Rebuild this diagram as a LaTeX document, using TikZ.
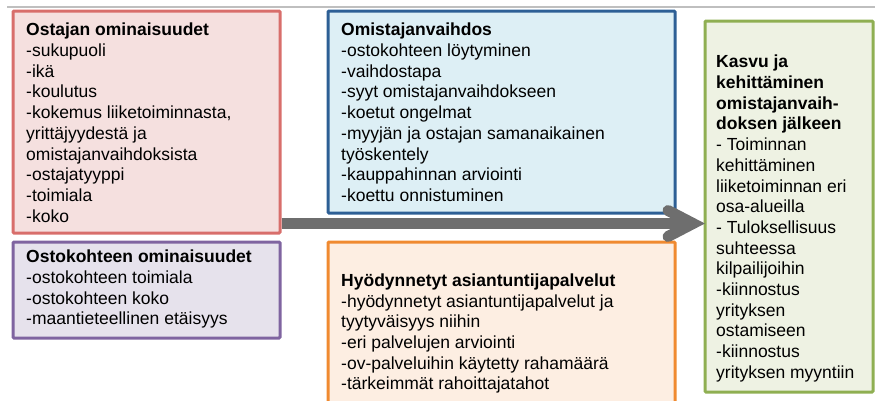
\documentclass[tikz,border=0pt]{standalone}
\usepackage{fontspec}
\setmainfont{Liberation Sans}
\definecolor{redB}{HTML}{D86E6B}
\definecolor{redF}{HTML}{F5E0DF}
\definecolor{purB}{HTML}{7F64A0}
\definecolor{purF}{HTML}{E6E2EC}
\definecolor{bluB}{HTML}{2D5F95}
\definecolor{bluF}{HTML}{DDEFF5}
\definecolor{oraB}{HTML}{F08A30}
\definecolor{oraF}{HTML}{FDEEE2}
\definecolor{grnB}{HTML}{8FAF52}
\definecolor{grnF}{HTML}{EEF2E3}
\definecolor{arrC}{HTML}{6E6E6E}
\definecolor{topL}{HTML}{BFBFBF}
\tikzset{
  box/.style={line width=3pt, rounded corners=1pt},
  txt/.style={anchor=north west, inner sep=0pt, align=left,
    font=\fontsize{17.5}{20.7}\selectfont},
}
\begin{document}
\begin{tikzpicture}[x=1pt,y=-1pt]
\useasboundingbox (0,0) rectangle (875,400);
\draw[topL, line width=1.2pt] (7,7) -- (875,7);
% boxes
\draw[box, draw=redB, fill=redF] (13,11) rectangle (280,233);
\draw[box, draw=purB, fill=purF] (13,242) rectangle (280,338);
\draw[box, draw=bluB, fill=bluF] (328,11) rectangle (675,213);
\draw[box, draw=oraB, fill=oraF] (328,242) rectangle (675,410);
\draw[box, draw=grnB, fill=grnF] (705,21) rectangle (873,392);
% texts
\node[txt] (tred) at (26,23) {\textbf{Ostajan ominaisuudet}\\-sukupuoli\\-ikä\\-koulutus\\-kokemus liiketoiminnasta,\\yrittäjyydestä ja\\omistajanvaihdoksista\\-ostajatyyppi\\-toimiala\\-koko};
\node[txt] (tpur) at (26,250) {\textbf{Ostokohteen ominaisuudet}\\-ostokohteen toimiala\\-ostokohteen koko\\-maantieteellinen etäisyys};
\node[txt] (tblu) at (341,23) {\textbf{Omistajanvaihdos}\\-ostokohteen löytyminen\\-vaihdostapa\\-syyt omistajanvaihdokseen\\-koetut ongelmat\\-myyjän ja ostajan samanaikainen\\työskentely\\-kauppahinnan arviointi\\-koettu onnistuminen};
\node[txt] (tora) at (341,273.5) {\textbf{Hyödynnetyt asiantuntijapalvelut}\\-hyödynnetyt asiantuntijapalvelut ja\\tyytyväisyys niihin\\-eri palvelujen arviointi\\-ov-palveluihin käytetty rahamäärä\\-tärkeimmät rahoittajatahot};
\node[txt] (tgrn) at (716,55) {\textbf{Kasvu ja}\\\textbf{kehittäminen}\\\textbf{omistajanvaih-}\\\textbf{doksen jälkeen}\\- Toiminnan\\kehittäminen\\liiketoiminnan eri\\osa-alueilla\\- Tuloksellisuus\\suhteessa\\kilpailijoihin\\-kiinnostus\\yrityksen\\ostamiseen\\-kiinnostus\\yrityksen myyntiin};
% arrow
\coordinate (a0) at (281.5,223.5);
\coordinate (av) at (693,223.5);
\coordinate (au) at (668,210.5);
\coordinate (ad) at (668,236.5);
\draw[arrC, line width=11pt] (a0) -- (av);
\draw[arrC, line width=11pt, line cap=round, miter limit=10] (au) -- (av) -- (ad);
\end{tikzpicture}
\end{document}
